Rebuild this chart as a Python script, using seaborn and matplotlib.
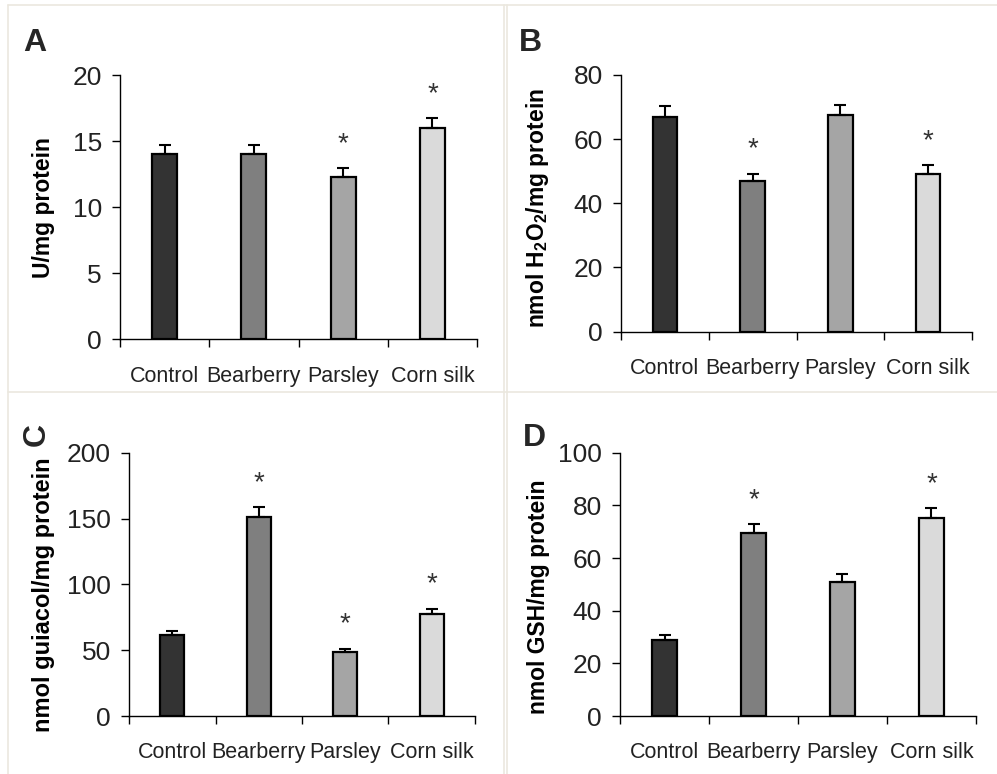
import matplotlib
matplotlib.use("Agg")
import matplotlib.pyplot as plt
from matplotlib.lines import Line2D
import seaborn as sns
import pandas as pd
import numpy as np

sns.set_theme(style="white")
plt.rcParams['font.family'] = ['Liberation Sans', 'DejaVu Sans']

categories = ["Control", "Bearberry", "Parsley", "Corn silk"]
bar_colors = ["#333333", "#7f7f7f", "#a5a5a5", "#dadada"]

# Panel A: U/mg protein
a_values = [14.05, 14.05, 12.3, 16.0]
a_errors = [0.65, 0.65, 0.65, 0.75]
a_signif = [False, False, True, True]

# Panel B: nmol H2O2/mg protein
b_values = [67.0, 46.9, 67.5, 49.2]
b_errors = [3.3, 2.3, 3.2, 2.7]
b_signif = [False, True, False, True]

# Panel C: nmol guiacol/mg protein
c_values = [61.5, 150.9, 48.8, 77.5]
c_errors = [3.3, 7.6, 2.3, 4.0]
c_signif = [False, True, True, True]

# Panel D: nmol GSH/mg protein
d_values = [28.9, 69.4, 51.0, 75.1]
d_errors = [1.9, 3.5, 2.8, 3.8]
d_signif = [False, True, False, True]

panels = [
    dict(values=a_values, errors=a_errors, signif=a_signif, ymax=20, ystep=5,
         ylabel="U/mg protein", rect=[0.1204, 0.5614, 0.3581, 0.3417],
         lab_xy=(-0.182, 0.497), lab_fs=16.5),
    dict(values=b_values, errors=b_errors, signif=b_signif, ymax=80, ystep=20,
         ylabel="nmol H$\\mathregular{_2}$O$\\mathregular{_2}$/mg protein",
         rect=[0.6229, 0.5714, 0.352, 0.332],
         lab_xy=(-0.2, 0.483), lab_fs=16.5),
    dict(values=c_values, errors=c_errors, signif=c_signif, ymax=200, ystep=50,
         ylabel="nmol guiacol/mg protein", rect=[0.1294, 0.0749, 0.347, 0.3402],
         lab_xy=(-0.214, 0.46), lab_fs=17),
    dict(values=d_values, errors=d_errors, signif=d_signif, ymax=100, ystep=20,
         ylabel="nmol GSH/mg protein", rect=[0.6219, 0.0749, 0.357, 0.3402],
         lab_xy=(-0.197, 0.454), lab_fs=16.5),
]

fig = plt.figure(figsize=(9.97, 7.74), dpi=100)
fig.patch.set_facecolor("white")

# light panel frames
frame_c = "#ebe8df"
for x in [8, 504, 507]:
    fig.add_artist(Line2D([x / 997, x / 997], [0, 1 - 5 / 774], color=frame_c, lw=1.2))
for y in [5, 392]:
    fig.add_artist(Line2D([8 / 997, 1], [1 - y / 774, 1 - y / 774], color=frame_c, lw=1.2))

for p in panels:
    ax = fig.add_axes(p["rect"])
    df = pd.DataFrame({"group": categories, "value": p["values"]})
    sns.barplot(data=df, x="group", y="value", hue="group", palette=bar_colors,
                legend=False, width=0.28, edgecolor="black", linewidth=1.6,
                errorbar=None, ax=ax)
    xs = np.arange(len(categories))
    ax.errorbar(xs, p["values"], yerr=[np.zeros(len(xs)), p["errors"]], fmt="none",
                ecolor="black", elinewidth=1.5, capsize=4.5, capthick=1.5, zorder=1)
    for xi, v, e, s in zip(xs, p["values"], p["errors"], p["signif"]):
        if s:
            ax.annotate("*", xy=(xi, v + e), xytext=(0, 8), textcoords="offset points",
                        ha="center", va="bottom", fontsize=20, color="#333333")
    ax.set_xlim(-0.5, 3.5)
    ax.set_ylim(0, p["ymax"])
    ax.set_yticks(np.arange(0, p["ymax"] + 0.1, p["ystep"]))
    ax.set_xticks(xs)
    ax.set_xticklabels(categories)
    ax.set_xticks(np.arange(-0.5, 3.6, 1.0), minor=True)
    ax.tick_params(axis="x", which="major", length=0, pad=19, labelsize=15.5, colors="#222222")
    ax.tick_params(axis="x", which="minor", length=6, width=1.0, direction="out", color="black", bottom=True)
    ax.tick_params(axis="y", which="major", length=6, width=1.0, direction="out", left=True,
                   pad=7, labelsize=19, colors="black", labelcolor="#222222")
    ax.set_xlabel("")
    ax.set_ylabel(p["ylabel"], fontsize=p["lab_fs"], fontweight="bold", color="black")
    ax.yaxis.set_label_coords(*p["lab_xy"])
    for side in ["top", "right"]:
        ax.spines[side].set_visible(False)
    for side in ["left", "bottom"]:
        ax.spines[side].set_color("black")
        ax.spines[side].set_linewidth(1.0)
    ax.set_facecolor("white")

fig.text(35 / 997, 1 - 43 / 774, "A", fontsize=23, fontweight="bold", ha="center", va="center")
fig.text(530 / 997, 1 - 43 / 774, "B", fontsize=23, fontweight="bold", ha="center", va="center")
fig.text(37 / 997, 1 - 435 / 774, "C", fontsize=23, fontweight="bold", ha="center", va="center", rotation=90)
fig.text(534 / 997, 1 - 438 / 774, "D", fontsize=23, fontweight="bold", ha="center", va="center")

fig.savefig("out.png", dpi=100, facecolor="white")
